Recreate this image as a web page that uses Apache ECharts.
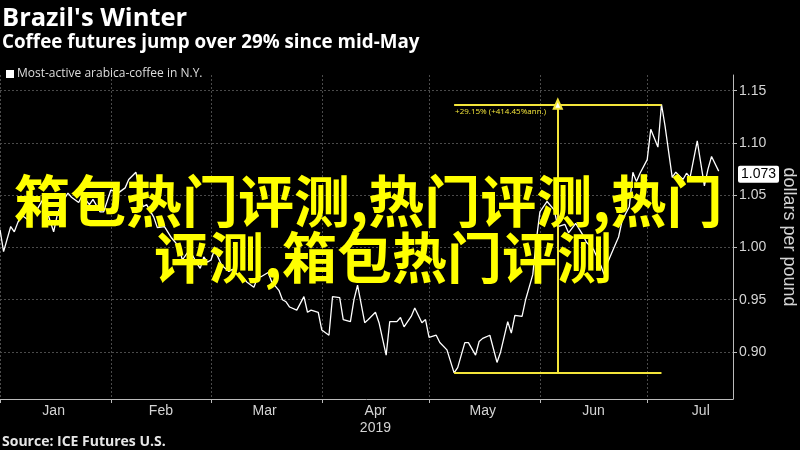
<!DOCTYPE html>
<html><head><meta charset="utf-8">
<script src="https://cdn.jsdelivr.net/npm/echarts@6/dist/echarts.min.js"></script>
<style>html,body{margin:0;padding:0;background:#000}#c{width:800px;height:450px}</style>
</head><body><div id="c"></div>
<script>
// ---- data ----
const dates = [
'2019-01-01','2019-01-02','2019-01-04','2019-01-05','2019-01-06','2019-01-07','2019-01-09','2019-01-10','2019-01-11','2019-01-13',
'2019-01-14','2019-01-16','2019-01-17','2019-01-18','2019-01-20','2019-01-21','2019-01-23','2019-01-24','2019-01-26','2019-01-27',
'2019-01-29','2019-01-30','2019-02-01','2019-02-03','2019-02-05','2019-02-06','2019-02-08','2019-02-09','2019-02-10','2019-02-11',
'2019-02-13','2019-02-14','2019-02-16','2019-02-18','2019-02-20','2019-02-21','2019-02-23','2019-02-25','2019-02-26','2019-02-27',
'2019-02-28','2019-03-01','2019-03-02','2019-03-04','2019-03-06','2019-03-07','2019-03-09','2019-03-10','2019-03-11','2019-03-13',
'2019-03-14','2019-03-15','2019-03-17','2019-03-18','2019-03-20','2019-03-21','2019-03-22','2019-03-23','2019-03-25','2019-03-27',
'2019-03-28','2019-03-29','2019-03-31','2019-04-01','2019-04-03','2019-04-04','2019-04-06','2019-04-07','2019-04-09','2019-04-10',
'2019-04-11','2019-04-13','2019-04-14','2019-04-16','2019-04-17','2019-04-19','2019-04-20','2019-04-22','2019-04-23','2019-04-24',
'2019-04-26','2019-04-27','2019-04-29','2019-04-30','2019-05-01','2019-05-03','2019-05-04','2019-05-06','2019-05-08','2019-05-09',
'2019-05-11','2019-05-12','2019-05-14','2019-05-15','2019-05-16','2019-05-18','2019-05-20','2019-05-21','2019-05-23','2019-05-24',
'2019-05-25','2019-05-27','2019-05-28','2019-05-30','2019-05-31','2019-06-01','2019-06-03','2019-06-05','2019-06-06','2019-06-08',
'2019-06-09','2019-06-11','2019-06-13','2019-06-14','2019-06-16','2019-06-18','2019-06-19','2019-06-20','2019-06-22','2019-06-23',
'2019-06-24','2019-06-26','2019-06-27','2019-06-28','2019-06-29','2019-07-01','2019-07-02','2019-07-04','2019-07-05','2019-07-06',
'2019-07-08','2019-07-09','2019-07-11','2019-07-12','2019-07-13','2019-07-15','2019-07-17','2019-07-18','2019-07-19','2019-07-21'
];
const prices = [
1.017,0.996,1.020,1.015,1.024,1.031,1.026,1.038,1.034,1.046,
1.036,1.015,1.031,1.041,1.052,1.048,1.043,1.050,1.041,1.046,
1.034,1.034,1.055,1.052,1.057,1.065,1.072,1.055,1.039,1.041,
1.029,1.019,1.020,1.009,1.001,0.988,0.998,0.985,0.980,0.991,
0.986,0.988,0.998,0.983,0.977,0.979,0.972,0.971,0.967,0.962,
0.971,0.972,0.976,0.967,0.959,0.950,0.948,0.943,0.940,0.953,
0.938,0.940,0.938,0.921,0.916,0.953,0.952,0.931,0.929,0.950,
0.964,0.928,0.931,0.938,0.928,0.897,0.929,0.929,0.933,0.924,
0.934,0.942,0.928,0.931,0.914,0.916,0.909,0.902,0.880,0.885,
0.909,0.909,0.897,0.910,0.913,0.916,0.890,0.900,0.929,0.918,
0.935,0.934,0.950,0.974,1.007,1.034,1.044,1.036,1.020,1.022,
1.014,1.023,1.012,1.005,0.998,0.983,0.974,0.986,1.002,1.010,
1.026,1.039,1.072,1.063,1.071,1.084,1.113,1.096,1.137,1.116,
1.067,1.072,1.065,1.071,1.067,1.102,1.059,1.075,1.087,1.073
];
const seriesName = 'Most-active arabica-coffee in N.Y.';
const monthStarts = ['2019-01-01','2019-02-01','2019-03-01','2019-04-01','2019-05-01','2019-06-01','2019-07-01'];
const monthLabelDates = ['2019-01-16','2019-02-15','2019-03-16','2019-04-16','2019-05-16','2019-06-16','2019-07-16'];
const monthLabels = ['Jan','Feb','Mar','Apr\n2019','May','Jun','Jul'];
const yTicks = [0.90,0.95,1.00,1.05,1.10,1.15];
const axisRange = {xMin:'2019-01-01', xMax:'2019-07-25', yMin:0.855, yMax:1.165};
const lastValueText = '1.073';
const changeText = '+29.15% (+414.45%ann.)';
const overlayLine1 = '箱包热门评测,热门评测,热门';
const overlayLine2 = '评测,箱包热门评测';

// ---- helpers ----
const t = s => { const [y,m,d] = s.split('-').map(Number); return new Date(y, m-1, d).getTime(); };
const lineData = dates.map((d,i)=>[t(d), prices[i]]);
let lowI = 0, highI = 0;
prices.forEach((v,i)=>{ if (v < prices[lowI]) lowI = i; if (v > prices[highI]) highI = i; });
const lowT = t(dates[lowI]), highT = t(dates[highI]);
const lowV = prices[lowI], highV = prices[highI];
const midT = (lowT + highT) / 2;
const lastV = prices[prices.length-1];
const labelTs = monthLabelDates.map(t);

const YEL = '#f3e53a';
const chart = echarts.init(document.getElementById('c'));
chart.setOption({
  backgroundColor:'#000',
  animation:false,
  title:[
    {text:"Brazil's Winter", left:2, top:6, padding:0, textStyle:{color:'#fff', fontFamily:'Open Sans', fontWeight:'bold', fontSize:25.5}},
    {text:'Coffee futures jump over 29% since mid-May', left:2, top:33, padding:0, textStyle:{color:'#fff', fontFamily:'Open Sans', fontWeight:'bold', fontSize:18.8}},
    {text:'Source: ICE Futures U.S.', left:2, top:435, padding:0, textStyle:{color:'#e6e6e6', fontFamily:'Open Sans', fontWeight:'bold', fontSize:14}}
  ],
  legend:{
    data:[{name:seriesName, icon:'rect'}], left:1, top:63, itemWidth:8, itemHeight:8, itemGap:5,
    textStyle:{color:'#ddd', fontFamily:'Open Sans', fontSize:12, padding:[0,0,0,-2]}
  },
  grid:{left:0, right:67, top:75, bottom:51, outerBoundsMode:'none', containLabel:false},
  xAxis:{
    type:'value', min:t(axisRange.xMin), max:t(axisRange.xMax), scale:true,
    axisLine:{lineStyle:{color:'#bbb', width:1}},
    axisTick:{show:true, length:4, customValues:monthStarts.map(t), lineStyle:{color:'#bbb'}},
    axisLabel:{customValues:labelTs, color:'#d4d4d4', fontFamily:'Liberation Sans', fontSize:14, margin:4, lineHeight:17,
      formatter:(v)=>{ let bi=0, bd=Infinity; labelTs.forEach((x,i)=>{const dd=Math.abs(x-v); if(dd<bd){bd=dd;bi=i;}}); return monthLabels[bi]; }},
    splitLine:{show:true, lineStyle:{color:'#4a4a4a', type:[2,2], width:1}}
  },
  yAxis:{
    type:'value', position:'right', min:axisRange.yMin, max:axisRange.yMax,
    axisLine:{show:true, lineStyle:{color:'#bbb', width:1}},
    axisTick:{show:true, length:4, customValues:yTicks, lineStyle:{color:'#bbb'}},
    axisLabel:{customValues:yTicks, color:'#d4d4d4', fontFamily:'Liberation Sans', fontSize:14, margin:6, formatter:v=>v.toFixed(2)},
    splitLine:{show:true, lineStyle:{color:'#4a4a4a', type:[2,2], width:1}},
    name:'dollars per pound', nameLocation:'middle', nameRotate:-90, nameGap:47,
    nameTextStyle:{color:'#d4d4d4', fontFamily:'Liberation Sans', fontSize:18}
  },
  series:[{
    name:seriesName, type:'line', data:lineData, showSymbol:false, symbol:'none',
    lineStyle:{color:'#fff', width:1.3}, itemStyle:{color:'#fff'},
    markLine:{
      silent:true, animation:false, symbol:['none','none'],
      data:[
        [{coord:[lowT, lowV]}, {coord:[highT, lowV]}],
        [{coord:[lowT, highV], label:{show:true, position:'insideStartBottom', formatter:changeText, color:YEL, fontSize:8, fontFamily:'Open Sans', distance:[1,3]}}, {coord:[highT, highV]}],
        [{coord:[midT, lowV], symbol:'none'}, {coord:[midT, highV], symbol:'emptyTriangle', symbolSize:[8,9]}],
        {yAxis:lastV, lineStyle:{color:'rgba(0,0,0,0)', width:0}, label:{show:true, position:'end', formatter:lastValueText, color:'#000', backgroundColor:'#fff', padding:[2,3,1,3], borderRadius:2, fontFamily:'Liberation Sans', fontSize:14, distance:5}}
      ],
      lineStyle:{color:YEL, width:2, type:'solid'},
      label:{show:false}
    }
  }],
  graphic:[
    {type:'text', z:100, style:{text:overlayLine1, x:14, y:173, font:'bold 56px "Noto Sans CJK SC"', fill:'#ffff00', textVerticalAlign:'top'}},
    {type:'text', z:100, style:{text:overlayLine2, x:154, y:230, font:'bold 55px "Noto Sans CJK SC"', fill:'#ffff00', textVerticalAlign:'top'}}
  ]
});
</script></body></html>
